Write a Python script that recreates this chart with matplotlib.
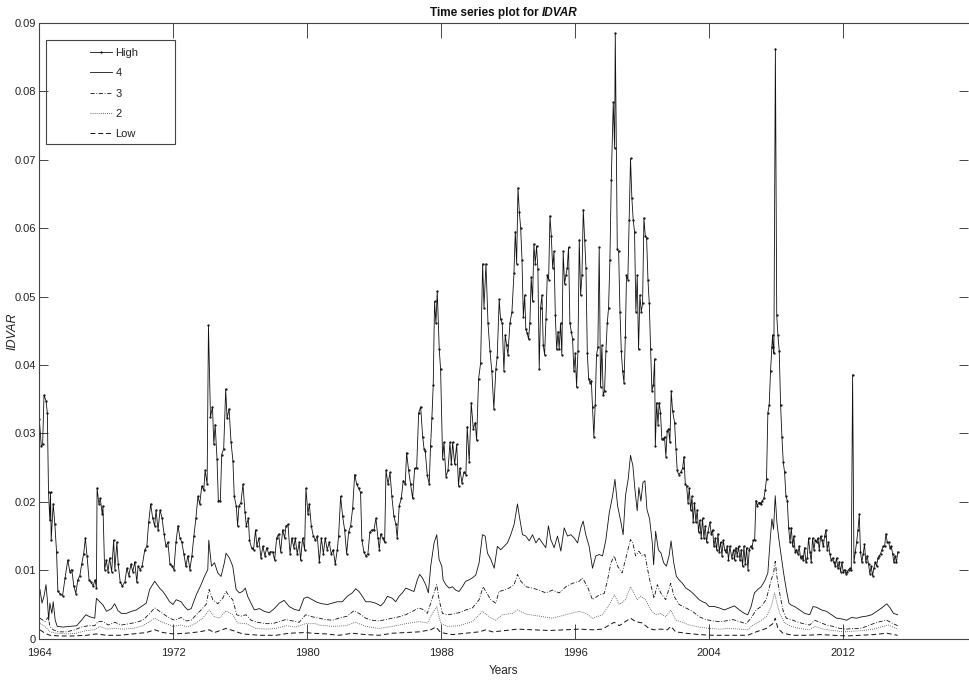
import numpy as np
import matplotlib
matplotlib.use('Agg')
import matplotlib.pyplot as plt
from matplotlib.patches import Rectangle
from matplotlib.offsetbox import TextArea, HPacker, AnchoredOffsetbox

plt.rcParams['font.family'] = ['Liberation Sans Narrow', 'Liberation Sans', 'DejaVu Sans']

# (year, IDVAR), one list per portfolio
high = [
    (1964.00, 0.0321), (1964.12, 0.0281), (1964.20, 0.0284), (1964.28, 0.0356), (1964.40, 0.0348),
    (1964.48, 0.0330), (1964.55, 0.0214), (1964.63, 0.0173), (1964.67, 0.0214), (1964.71, 0.0144),
    (1964.83, 0.0197), (1964.93, 0.0167), (1965.03, 0.0127), (1965.11, 0.0069), (1965.23, 0.0066),
    (1965.39, 0.0063), (1965.54, 0.0089), (1965.70, 0.0115), (1965.82, 0.0098), (1965.94, 0.0101),
    (1966.06, 0.0077), (1966.18, 0.0066), (1966.30, 0.0086), (1966.42, 0.0092), (1966.53, 0.0109),
    (1966.65, 0.0124), (1966.75, 0.0147), (1966.85, 0.0121), (1966.97, 0.0086), (1967.09, 0.0083),
    (1967.21, 0.0077), (1967.33, 0.0086), (1967.41, 0.0074), (1967.45, 0.0220), (1967.56, 0.0197),
    (1967.64, 0.0205), (1967.76, 0.0182), (1967.80, 0.0194), (1967.90, 0.0101), (1968.00, 0.0115),
    (1968.10, 0.0098), (1968.20, 0.0118), (1968.32, 0.0098), (1968.44, 0.0144), (1968.51, 0.0101),
    (1968.63, 0.0141), (1968.71, 0.0109), (1968.83, 0.0083), (1968.95, 0.0077), (1969.11, 0.0083),
    (1969.23, 0.0103), (1969.35, 0.0092), (1969.47, 0.0109), (1969.58, 0.0098), (1969.70, 0.0112),
    (1969.82, 0.0083), (1969.90, 0.0106), (1970.02, 0.0101), (1970.14, 0.0106), (1970.30, 0.0130),
    (1970.42, 0.0135), (1970.53, 0.0170), (1970.65, 0.0197), (1970.77, 0.0176), (1970.89, 0.0165),
    (1970.97, 0.0188), (1971.09, 0.0159), (1971.21, 0.0188), (1971.33, 0.0176), (1971.45, 0.0153),
    (1971.56, 0.0135), (1971.68, 0.0141), (1971.80, 0.0109), (1971.92, 0.0106), (1972.04, 0.0101),
    (1972.16, 0.0141), (1972.28, 0.0165), (1972.40, 0.0147), (1972.51, 0.0141), (1972.63, 0.0124),
    (1972.75, 0.0106), (1972.87, 0.0121), (1972.99, 0.0101), (1973.11, 0.0121), (1973.23, 0.0150),
    (1973.35, 0.0176), (1973.47, 0.0208), (1973.58, 0.0197), (1973.70, 0.0223), (1973.82, 0.0217),
    (1973.90, 0.0246), (1974.02, 0.0226), (1974.10, 0.0458), (1974.22, 0.0324), (1974.34, 0.0339),
    (1974.42, 0.0284), (1974.50, 0.0313), (1974.61, 0.0263), (1974.69, 0.0202), (1974.81, 0.0202),
    (1974.89, 0.0269), (1975.01, 0.0278), (1975.13, 0.0365), (1975.21, 0.0322), (1975.33, 0.0336),
    (1975.45, 0.0287), (1975.56, 0.0260), (1975.64, 0.0208), (1975.76, 0.0194), (1975.84, 0.0165),
    (1975.92, 0.0194), (1976.04, 0.0199), (1976.16, 0.0226), (1976.28, 0.0185), (1976.36, 0.0165),
    (1976.48, 0.0176), (1976.55, 0.0144), (1976.67, 0.0133), (1976.79, 0.0130), (1976.91, 0.0159),
    (1976.99, 0.0135), (1977.11, 0.0147), (1977.23, 0.0118), (1977.35, 0.0135), (1977.47, 0.0121),
    (1977.58, 0.0133), (1977.70, 0.0124), (1977.80, 0.0127), (1977.93, 0.0127), (1978.05, 0.0115),
    (1978.17, 0.0147), (1978.29, 0.0153), (1978.41, 0.0127), (1978.53, 0.0159), (1978.65, 0.0147),
    (1978.73, 0.0165), (1978.85, 0.0167), (1978.97, 0.0124), (1979.08, 0.0147), (1979.20, 0.0133),
    (1979.28, 0.0147), (1979.40, 0.0124), (1979.52, 0.0141), (1979.60, 0.0115), (1979.72, 0.0147),
    (1979.84, 0.0130), (1979.92, 0.0220), (1980.04, 0.0182), (1980.12, 0.0197), (1980.24, 0.0165),
    (1980.36, 0.0150), (1980.48, 0.0144), (1980.60, 0.0150), (1980.72, 0.0112), (1980.84, 0.0147),
    (1980.96, 0.0124), (1981.07, 0.0147), (1981.19, 0.0130), (1981.31, 0.0141), (1981.43, 0.0124),
    (1981.55, 0.0130), (1981.67, 0.0109), (1981.79, 0.0130), (1981.87, 0.0150), (1981.99, 0.0208),
    (1982.11, 0.0179), (1982.23, 0.0159), (1982.35, 0.0124), (1982.47, 0.0156), (1982.59, 0.0165),
    (1982.71, 0.0191), (1982.83, 0.0240), (1982.95, 0.0226), (1983.06, 0.0220), (1983.18, 0.0214),
    (1983.26, 0.0144), (1983.38, 0.0127), (1983.50, 0.0121), (1983.62, 0.0124), (1983.74, 0.0156),
    (1983.86, 0.0159), (1983.98, 0.0159), (1984.10, 0.0176), (1984.22, 0.0147), (1984.30, 0.0130),
    (1984.38, 0.0153), (1984.50, 0.0147), (1984.62, 0.0141), (1984.70, 0.0246), (1984.82, 0.0226),
    (1984.94, 0.0243), (1985.05, 0.0208), (1985.17, 0.0179), (1985.29, 0.0167), (1985.37, 0.0147),
    (1985.49, 0.0194), (1985.61, 0.0205), (1985.73, 0.0231), (1985.85, 0.0226), (1985.93, 0.0272),
    (1986.05, 0.0246), (1986.17, 0.0226), (1986.29, 0.0205), (1986.41, 0.0249), (1986.53, 0.0249),
    (1986.65, 0.0330), (1986.77, 0.0339), (1986.89, 0.0295), (1986.97, 0.0278), (1987.04, 0.0275),
    (1987.16, 0.0240), (1987.28, 0.0226), (1987.36, 0.0281), (1987.44, 0.0322), (1987.52, 0.0371),
    (1987.60, 0.0493), (1987.68, 0.0461), (1987.76, 0.0508), (1987.88, 0.0423), (1987.96, 0.0394),
    (1988.08, 0.0263), (1988.16, 0.0287), (1988.28, 0.0237), (1988.40, 0.0246), (1988.52, 0.0287),
    (1988.60, 0.0255), (1988.68, 0.0287), (1988.80, 0.0255), (1988.92, 0.0284), (1989.03, 0.0223),
    (1989.11, 0.0249), (1989.23, 0.0228), (1989.35, 0.0243), (1989.47, 0.0240), (1989.55, 0.0310),
    (1989.67, 0.0258), (1989.79, 0.0345), (1989.91, 0.0307), (1990.03, 0.0316), (1990.11, 0.0290),
    (1990.23, 0.0380), (1990.35, 0.0403), (1990.47, 0.0548), (1990.55, 0.0484), (1990.67, 0.0548),
    (1990.79, 0.0461), (1990.91, 0.0420), (1991.02, 0.0391), (1991.14, 0.0336), (1991.26, 0.0394),
    (1991.34, 0.0412), (1991.46, 0.0496), (1991.54, 0.0467), (1991.64, 0.0461), (1991.74, 0.0391),
    (1991.82, 0.0444), (1991.90, 0.0429), (1991.98, 0.0415), (1992.10, 0.0461), (1992.22, 0.0478),
    (1992.34, 0.0534), (1992.42, 0.0595), (1992.50, 0.0548), (1992.58, 0.0659), (1992.66, 0.0624),
    (1992.74, 0.0601), (1992.82, 0.0554), (1992.90, 0.0470), (1992.98, 0.0502), (1993.05, 0.0452),
    (1993.13, 0.0447), (1993.21, 0.0438), (1993.29, 0.0461), (1993.37, 0.0528), (1993.45, 0.0493),
    (1993.53, 0.0577), (1993.61, 0.0548), (1993.69, 0.0574), (1993.77, 0.0540), (1993.85, 0.0394),
    (1993.93, 0.0484), (1994.01, 0.0502), (1994.09, 0.0429), (1994.17, 0.0415), (1994.25, 0.0467),
    (1994.33, 0.0531), (1994.41, 0.0525), (1994.49, 0.0618), (1994.57, 0.0589), (1994.65, 0.0542),
    (1994.73, 0.0566), (1994.81, 0.0473), (1994.89, 0.0423), (1994.97, 0.0449), (1995.04, 0.0423),
    (1995.12, 0.0461), (1995.20, 0.0415), (1995.28, 0.0566), (1995.36, 0.0519), (1995.44, 0.0531),
    (1995.52, 0.0542), (1995.60, 0.0572), (1995.68, 0.0461), (1995.76, 0.0449), (1995.84, 0.0438),
    (1995.92, 0.0391), (1996.00, 0.0417), (1996.08, 0.0368), (1996.16, 0.0420), (1996.24, 0.0583),
    (1996.32, 0.0502), (1996.40, 0.0531), (1996.48, 0.0627), (1996.56, 0.0583), (1996.64, 0.0542),
    (1996.72, 0.0417), (1996.80, 0.0380), (1996.88, 0.0374), (1996.96, 0.0377), (1997.03, 0.0339),
    (1997.11, 0.0295), (1997.19, 0.0342), (1997.27, 0.0415), (1997.35, 0.0426), (1997.43, 0.0572),
    (1997.51, 0.0368), (1997.59, 0.0429), (1997.67, 0.0356), (1997.75, 0.0362), (1997.83, 0.0420),
    (1997.91, 0.0461), (1997.99, 0.0484), (1998.07, 0.0554), (1998.15, 0.0670), (1998.27, 0.0784),
    (1998.35, 0.0717), (1998.39, 0.0885), (1998.51, 0.0569), (1998.59, 0.0566), (1998.67, 0.0478),
    (1998.75, 0.0420), (1998.83, 0.0391), (1998.91, 0.0374), (1998.99, 0.0441), (1999.06, 0.0531),
    (1999.14, 0.0525), (1999.22, 0.0612), (1999.30, 0.0702), (1999.38, 0.0644), (1999.46, 0.0612),
    (1999.54, 0.0595), (1999.62, 0.0478), (1999.70, 0.0531), (1999.78, 0.0423), (1999.86, 0.0502),
    (1999.94, 0.0478), (2000.02, 0.0490), (2000.10, 0.0615), (2000.18, 0.0589), (2000.26, 0.0586),
    (2000.34, 0.0525), (2000.42, 0.0490), (2000.50, 0.0423), (2000.58, 0.0362), (2000.66, 0.0371),
    (2000.74, 0.0409), (2000.78, 0.0281), (2000.86, 0.0345), (2000.94, 0.0313), (2001.01, 0.0345),
    (2001.09, 0.0330), (2001.17, 0.0292), (2001.25, 0.0292), (2001.33, 0.0295), (2001.41, 0.0266),
    (2001.49, 0.0304), (2001.57, 0.0307), (2001.65, 0.0287), (2001.73, 0.0362), (2001.81, 0.0333),
    (2001.93, 0.0316), (2002.01, 0.0278), (2002.09, 0.0246), (2002.17, 0.0240), (2002.29, 0.0243),
    (2002.41, 0.0249), (2002.49, 0.0266), (2002.57, 0.0226), (2002.65, 0.0223), (2002.73, 0.0199),
    (2002.81, 0.0220), (2002.89, 0.0188), (2002.97, 0.0208), (2003.04, 0.0170), (2003.12, 0.0199),
    (2003.20, 0.0170), (2003.28, 0.0188), (2003.36, 0.0156), (2003.44, 0.0173), (2003.52, 0.0147),
    (2003.60, 0.0176), (2003.68, 0.0147), (2003.76, 0.0165), (2003.84, 0.0141), (2003.92, 0.0156),
    (2004.04, 0.0170), (2004.12, 0.0153), (2004.20, 0.0159), (2004.28, 0.0135), (2004.36, 0.0147),
    (2004.44, 0.0130), (2004.52, 0.0153), (2004.60, 0.0127), (2004.68, 0.0141), (2004.76, 0.0121),
    (2004.84, 0.0144), (2004.92, 0.0130), (2005.00, 0.0127), (2005.07, 0.0135), (2005.15, 0.0115),
    (2005.23, 0.0135), (2005.35, 0.0118), (2005.45, 0.0130), (2005.51, 0.0115), (2005.59, 0.0133),
    (2005.67, 0.0121), (2005.75, 0.0135), (2005.83, 0.0115), (2005.91, 0.0130), (2005.99, 0.0106),
    (2006.07, 0.0135), (2006.15, 0.0109), (2006.23, 0.0133), (2006.31, 0.0101), (2006.39, 0.0130),
    (2006.47, 0.0135), (2006.55, 0.0133), (2006.63, 0.0144), (2006.71, 0.0144), (2006.79, 0.0202),
    (2006.87, 0.0194), (2006.95, 0.0199), (2007.02, 0.0199), (2007.10, 0.0197), (2007.18, 0.0202),
    (2007.26, 0.0205), (2007.34, 0.0217), (2007.42, 0.0234), (2007.50, 0.0330), (2007.58, 0.0342),
    (2007.66, 0.0391), (2007.74, 0.0426), (2007.78, 0.0444), (2007.82, 0.0426), (2007.86, 0.0417),
    (2007.95, 0.0862), (2008.03, 0.0473), (2008.10, 0.0444), (2008.18, 0.0420), (2008.26, 0.0342),
    (2008.34, 0.0295), (2008.42, 0.0258), (2008.50, 0.0243), (2008.58, 0.0208), (2008.66, 0.0202),
    (2008.74, 0.0162), (2008.82, 0.0141), (2008.90, 0.0162), (2008.98, 0.0135), (2009.05, 0.0150),
    (2009.13, 0.0127), (2009.21, 0.0130), (2009.29, 0.0124), (2009.37, 0.0135), (2009.45, 0.0118),
    (2009.53, 0.0121), (2009.61, 0.0115), (2009.69, 0.0133), (2009.77, 0.0112), (2009.85, 0.0118),
    (2009.93, 0.0147), (2010.01, 0.0127), (2010.09, 0.0112), (2010.17, 0.0147), (2010.25, 0.0130),
    (2010.33, 0.0144), (2010.41, 0.0141), (2010.49, 0.0147), (2010.57, 0.0130), (2010.65, 0.0150),
    (2010.73, 0.0144), (2010.81, 0.0135), (2010.89, 0.0150), (2010.97, 0.0159), (2011.04, 0.0130),
    (2011.12, 0.0141), (2011.20, 0.0124), (2011.28, 0.0115), (2011.36, 0.0118), (2011.44, 0.0112),
    (2011.52, 0.0106), (2011.60, 0.0118), (2011.68, 0.0103), (2011.76, 0.0112), (2011.84, 0.0098),
    (2011.92, 0.0112), (2012.00, 0.0098), (2012.08, 0.0101), (2012.16, 0.0095), (2012.24, 0.0098),
    (2012.32, 0.0101), (2012.40, 0.0103), (2012.48, 0.0101), (2012.56, 0.0386), (2012.64, 0.0112),
    (2012.72, 0.0127), (2012.80, 0.0141), (2012.88, 0.0159), (2012.96, 0.0182), (2013.03, 0.0127),
    (2013.11, 0.0112), (2013.19, 0.0124), (2013.27, 0.0138), (2013.35, 0.0112), (2013.43, 0.0121),
    (2013.51, 0.0109), (2013.59, 0.0095), (2013.67, 0.0106), (2013.75, 0.0092), (2013.83, 0.0103),
    (2013.91, 0.0112), (2013.99, 0.0106), (2014.07, 0.0118), (2014.15, 0.0121), (2014.23, 0.0124),
    (2014.31, 0.0130), (2014.39, 0.0135), (2014.47, 0.0135), (2014.55, 0.0153), (2014.63, 0.0141),
    (2014.71, 0.0141), (2014.79, 0.0133), (2014.87, 0.0135), (2014.95, 0.0124), (2015.02, 0.0112),
    (2015.10, 0.0121), (2015.18, 0.0112), (2015.26, 0.0127),
]

q4 = [
    (1964.04, 0.0072), (1964.16, 0.0052), (1964.28, 0.0062), (1964.40, 0.0079), (1964.48, 0.0057),
    (1964.56, 0.0027), (1964.63, 0.0052), (1964.75, 0.0037), (1964.83, 0.0054), (1964.95, 0.0027),
    (1965.07, 0.0018), (1965.43, 0.0017), (1965.83, 0.0018), (1966.23, 0.0019), (1966.52, 0.0027),
    (1966.78, 0.0035), (1967.02, 0.0032), (1967.31, 0.0030), (1967.41, 0.0059), (1967.61, 0.0054),
    (1967.81, 0.0049), (1968.01, 0.0040), (1968.31, 0.0044), (1968.50, 0.0051), (1968.70, 0.0041),
    (1968.90, 0.0037), (1969.20, 0.0037), (1969.50, 0.0040), (1969.79, 0.0042), (1970.09, 0.0047),
    (1970.39, 0.0052), (1970.59, 0.0072), (1970.89, 0.0084), (1971.18, 0.0074), (1971.38, 0.0069),
    (1971.58, 0.0062), (1971.78, 0.0054), (1971.98, 0.0050), (1972.17, 0.0057), (1972.47, 0.0054),
    (1972.67, 0.0047), (1972.87, 0.0042), (1973.07, 0.0044), (1973.37, 0.0064), (1973.66, 0.0079),
    (1973.86, 0.0091), (1974.06, 0.0101), (1974.12, 0.0144), (1974.28, 0.0106), (1974.46, 0.0111),
    (1974.66, 0.0096), (1974.85, 0.0091), (1975.05, 0.0111), (1975.15, 0.0125), (1975.35, 0.0118),
    (1975.55, 0.0106), (1975.75, 0.0072), (1975.94, 0.0067), (1976.14, 0.0069), (1976.30, 0.0074),
    (1976.44, 0.0062), (1976.64, 0.0052), (1976.84, 0.0042), (1977.14, 0.0044), (1977.43, 0.0040),
    (1977.73, 0.0038), (1978.03, 0.0044), (1978.33, 0.0052), (1978.62, 0.0056), (1978.92, 0.0047),
    (1979.22, 0.0043), (1979.52, 0.0041), (1979.80, 0.0059), (1980.00, 0.0061), (1980.30, 0.0057),
    (1980.60, 0.0053), (1980.90, 0.0051), (1981.20, 0.0050), (1981.49, 0.0052), (1981.79, 0.0054),
    (1982.09, 0.0054), (1982.39, 0.0062), (1982.69, 0.0067), (1982.89, 0.0073), (1983.09, 0.0069),
    (1983.29, 0.0062), (1983.49, 0.0054), (1983.78, 0.0054), (1984.08, 0.0052), (1984.38, 0.0048),
    (1984.58, 0.0053), (1984.78, 0.0062), (1985.08, 0.0059), (1985.28, 0.0054), (1985.48, 0.0062),
    (1985.68, 0.0067), (1985.88, 0.0074), (1986.18, 0.0071), (1986.37, 0.0069), (1986.57, 0.0086),
    (1986.71, 0.0094), (1986.87, 0.0089), (1987.07, 0.0079), (1987.23, 0.0067), (1987.37, 0.0106),
    (1987.57, 0.0140), (1987.73, 0.0152), (1987.87, 0.0116), (1988.03, 0.0106), (1988.11, 0.0086),
    (1988.27, 0.0079), (1988.47, 0.0074), (1988.67, 0.0076), (1988.86, 0.0071), (1989.06, 0.0069),
    (1989.26, 0.0076), (1989.46, 0.0084), (1989.66, 0.0086), (1989.86, 0.0089), (1990.06, 0.0093),
    (1990.26, 0.0111), (1990.46, 0.0152), (1990.62, 0.0150), (1990.76, 0.0125), (1990.96, 0.0116),
    (1991.16, 0.0103), (1991.35, 0.0135), (1991.55, 0.0130), (1991.75, 0.0135), (1991.95, 0.0140),
    (1992.15, 0.0152), (1992.35, 0.0167), (1992.55, 0.0197), (1992.69, 0.0175), (1992.85, 0.0152),
    (1993.05, 0.0150), (1993.25, 0.0143), (1993.45, 0.0152), (1993.65, 0.0140), (1993.84, 0.0147),
    (1994.04, 0.0140), (1994.24, 0.0133), (1994.40, 0.0165), (1994.54, 0.0145), (1994.74, 0.0133),
    (1994.94, 0.0150), (1995.14, 0.0128), (1995.34, 0.0162), (1995.54, 0.0150), (1995.74, 0.0152),
    (1995.94, 0.0147), (1996.14, 0.0140), (1996.33, 0.0162), (1996.47, 0.0172), (1996.63, 0.0152),
    (1996.83, 0.0135), (1997.03, 0.0103), (1997.23, 0.0121), (1997.43, 0.0123), (1997.63, 0.0121),
    (1997.83, 0.0145), (1998.03, 0.0184), (1998.23, 0.0209), (1998.37, 0.0233), (1998.53, 0.0194),
    (1998.73, 0.0170), (1998.86, 0.0152), (1999.00, 0.0209), (1999.16, 0.0233), (1999.30, 0.0268),
    (1999.44, 0.0253), (1999.56, 0.0219), (1999.70, 0.0187), (1999.80, 0.0221), (1999.92, 0.0201),
    (2000.04, 0.0228), (2000.16, 0.0231), (2000.28, 0.0189), (2000.44, 0.0175), (2000.60, 0.0140),
    (2000.68, 0.0108), (2000.80, 0.0157), (2000.96, 0.0130), (2001.12, 0.0125), (2001.28, 0.0111),
    (2001.44, 0.0106), (2001.60, 0.0121), (2001.72, 0.0143), (2001.88, 0.0111), (2002.04, 0.0091),
    (2002.20, 0.0086), (2002.40, 0.0081), (2002.60, 0.0074), (2002.80, 0.0071), (2003.00, 0.0067),
    (2003.20, 0.0062), (2003.40, 0.0057), (2003.60, 0.0054), (2003.80, 0.0052), (2004.00, 0.0047),
    (2004.30, 0.0047), (2004.60, 0.0045), (2004.90, 0.0042), (2005.20, 0.0045), (2005.50, 0.0048),
    (2005.80, 0.0042), (2006.10, 0.0037), (2006.30, 0.0035), (2006.50, 0.0047), (2006.70, 0.0067),
    (2006.90, 0.0072), (2007.10, 0.0076), (2007.30, 0.0084), (2007.50, 0.0096), (2007.64, 0.0145),
    (2007.74, 0.0175), (2007.84, 0.0160), (2007.94, 0.0209), (2008.04, 0.0170), (2008.16, 0.0145),
    (2008.30, 0.0121), (2008.44, 0.0096), (2008.60, 0.0072), (2008.76, 0.0052), (2008.90, 0.0049),
    (2009.10, 0.0047), (2009.40, 0.0042), (2009.70, 0.0037), (2010.00, 0.0035), (2010.20, 0.0047),
    (2010.40, 0.0046), (2010.70, 0.0042), (2011.00, 0.0040), (2011.30, 0.0035), (2011.60, 0.0030),
    (2011.90, 0.0029), (2012.20, 0.0027), (2012.50, 0.0031), (2012.80, 0.0030), (2013.10, 0.0032),
    (2013.40, 0.0033), (2013.70, 0.0035), (2014.00, 0.0040), (2014.30, 0.0045), (2014.60, 0.0051),
    (2014.80, 0.0045), (2015.00, 0.0037), (2015.25, 0.0035),
]

q3 = [
    (1964.04, 0.0030), (1964.34, 0.0025), (1964.54, 0.0032), (1964.63, 0.0018), (1964.83, 0.0013),
    (1965.13, 0.0010), (1965.63, 0.0010), (1966.12, 0.0013), (1966.52, 0.0017), (1966.92, 0.0019),
    (1967.31, 0.0019), (1967.51, 0.0025), (1967.81, 0.0025), (1968.11, 0.0020), (1968.50, 0.0024),
    (1968.90, 0.0020), (1969.40, 0.0022), (1969.79, 0.0024), (1970.19, 0.0027), (1970.59, 0.0037),
    (1970.89, 0.0045), (1971.18, 0.0040), (1971.48, 0.0035), (1971.78, 0.0030), (1972.08, 0.0027),
    (1972.47, 0.0031), (1972.77, 0.0026), (1973.07, 0.0027), (1973.37, 0.0035), (1973.66, 0.0042),
    (1973.96, 0.0050), (1974.14, 0.0072), (1974.36, 0.0057), (1974.66, 0.0051), (1974.95, 0.0059),
    (1975.15, 0.0069), (1975.35, 0.0062), (1975.55, 0.0057), (1975.79, 0.0035), (1976.04, 0.0033),
    (1976.34, 0.0035), (1976.64, 0.0027), (1977.04, 0.0024), (1977.53, 0.0022), (1977.93, 0.0022),
    (1978.33, 0.0025), (1978.72, 0.0028), (1979.12, 0.0026), (1979.52, 0.0024), (1979.90, 0.0035),
    (1980.30, 0.0032), (1980.70, 0.0030), (1981.10, 0.0028), (1981.49, 0.0027), (1981.89, 0.0030),
    (1982.39, 0.0033), (1982.79, 0.0041), (1983.09, 0.0037), (1983.49, 0.0030), (1983.88, 0.0027),
    (1984.28, 0.0026), (1984.68, 0.0028), (1985.08, 0.0030), (1985.48, 0.0032), (1985.88, 0.0035),
    (1986.27, 0.0040), (1986.67, 0.0045), (1986.97, 0.0042), (1987.17, 0.0037), (1987.37, 0.0052),
    (1987.57, 0.0067), (1987.73, 0.0079), (1987.87, 0.0057), (1988.07, 0.0037), (1988.37, 0.0035),
    (1988.67, 0.0036), (1989.06, 0.0038), (1989.46, 0.0042), (1989.86, 0.0045), (1990.26, 0.0057),
    (1990.50, 0.0076), (1990.66, 0.0069), (1990.96, 0.0057), (1991.25, 0.0052), (1991.45, 0.0069),
    (1991.75, 0.0071), (1992.05, 0.0074), (1992.35, 0.0079), (1992.55, 0.0094), (1992.75, 0.0084),
    (1993.05, 0.0076), (1993.45, 0.0074), (1993.84, 0.0071), (1994.24, 0.0067), (1994.64, 0.0071),
    (1995.04, 0.0067), (1995.44, 0.0076), (1995.84, 0.0081), (1996.24, 0.0084), (1996.43, 0.0089),
    (1996.73, 0.0076), (1997.03, 0.0057), (1997.43, 0.0064), (1997.73, 0.0066), (1997.93, 0.0086),
    (1998.13, 0.0111), (1998.33, 0.0121), (1998.53, 0.0106), (1998.80, 0.0096), (1999.00, 0.0116),
    (1999.30, 0.0145), (1999.44, 0.0140), (1999.60, 0.0121), (1999.80, 0.0128), (2000.00, 0.0121),
    (2000.16, 0.0123), (2000.40, 0.0091), (2000.70, 0.0059), (2000.90, 0.0079), (2001.10, 0.0067),
    (2001.40, 0.0057), (2001.70, 0.0081), (2001.90, 0.0062), (2002.20, 0.0050), (2002.60, 0.0045),
    (2003.00, 0.0040), (2003.40, 0.0032), (2003.80, 0.0028), (2004.20, 0.0026), (2004.60, 0.0025),
    (2005.00, 0.0026), (2005.40, 0.0028), (2005.80, 0.0025), (2006.20, 0.0022), (2006.50, 0.0030),
    (2006.80, 0.0042), (2007.10, 0.0047), (2007.40, 0.0057), (2007.70, 0.0086), (2007.84, 0.0096),
    (2007.94, 0.0113), (2008.04, 0.0091), (2008.20, 0.0067), (2008.40, 0.0042), (2008.60, 0.0030),
    (2008.90, 0.0028), (2009.20, 0.0025), (2009.60, 0.0022), (2010.00, 0.0020), (2010.30, 0.0027),
    (2010.60, 0.0024), (2011.00, 0.0020), (2011.40, 0.0018), (2011.80, 0.0015), (2012.20, 0.0014),
    (2012.60, 0.0015), (2013.00, 0.0015), (2013.40, 0.0018), (2013.80, 0.0022), (2014.20, 0.0025),
    (2014.60, 0.0027), (2014.90, 0.0023), (2015.25, 0.0019),
]

q2 = [
    (1964.04, 0.0022), (1964.34, 0.0018), (1964.63, 0.0010), (1965.03, 0.0008), (1965.63, 0.0007),
    (1966.22, 0.0008), (1966.82, 0.0012), (1967.31, 0.0013), (1967.61, 0.0018), (1968.01, 0.0014),
    (1968.50, 0.0015), (1969.00, 0.0014), (1969.60, 0.0015), (1970.19, 0.0019), (1970.59, 0.0025),
    (1970.89, 0.0030), (1971.18, 0.0026), (1971.58, 0.0022), (1971.98, 0.0018), (1972.47, 0.0020),
    (1972.87, 0.0017), (1973.37, 0.0023), (1973.76, 0.0030), (1974.14, 0.0042), (1974.46, 0.0032),
    (1974.75, 0.0030), (1975.15, 0.0041), (1975.55, 0.0035), (1975.85, 0.0023), (1976.34, 0.0022),
    (1976.94, 0.0015), (1977.53, 0.0014), (1978.13, 0.0015), (1978.72, 0.0019), (1979.32, 0.0017),
    (1979.91, 0.0022), (1980.51, 0.0022), (1980.70, 0.0020), (1981.49, 0.0018), (1982.29, 0.0019),
    (1982.89, 0.0024), (1983.49, 0.0018), (1984.28, 0.0015), (1985.08, 0.0018), (1985.88, 0.0022),
    (1986.67, 0.0025), (1987.17, 0.0023), (1987.47, 0.0037), (1987.73, 0.0047), (1987.97, 0.0022),
    (1988.37, 0.0018), (1989.06, 0.0019), (1989.86, 0.0025), (1990.46, 0.0040), (1990.86, 0.0032),
    (1991.25, 0.0027), (1991.65, 0.0035), (1992.25, 0.0037), (1992.55, 0.0042), (1993.05, 0.0036),
    (1993.84, 0.0033), (1994.64, 0.0030), (1995.44, 0.0035), (1996.24, 0.0040), (1996.63, 0.0037),
    (1997.03, 0.0030), (1997.63, 0.0035), (1998.03, 0.0050), (1998.33, 0.0064), (1998.63, 0.0050),
    (1999.00, 0.0057), (1999.30, 0.0076), (1999.50, 0.0067), (1999.70, 0.0057), (1999.90, 0.0062),
    (2000.20, 0.0057), (2000.50, 0.0042), (2000.80, 0.0035), (2001.10, 0.0037), (2001.40, 0.0032),
    (2001.70, 0.0042), (2002.00, 0.0027), (2002.40, 0.0024), (2002.80, 0.0020), (2003.40, 0.0017),
    (2004.00, 0.0015), (2004.60, 0.0014), (2005.20, 0.0015), (2005.80, 0.0014), (2006.30, 0.0013),
    (2006.60, 0.0020), (2007.00, 0.0025), (2007.40, 0.0032), (2007.70, 0.0047), (2007.90, 0.0067),
    (2008.04, 0.0052), (2008.20, 0.0037), (2008.50, 0.0023), (2008.90, 0.0018), (2009.40, 0.0015),
    (2010.00, 0.0013), (2010.30, 0.0018), (2010.80, 0.0014), (2011.40, 0.0012), (2012.00, 0.0010),
    (2012.60, 0.0011), (2013.20, 0.0012), (2013.80, 0.0014), (2014.40, 0.0018), (2014.70, 0.0020),
    (2015.25, 0.0014),
]

low = [
    (1964.04, 0.0013), (1964.34, 0.0008), (1964.63, 0.0005), (1965.23, 0.0004), (1966.02, 0.0004),
    (1966.82, 0.0005), (1967.41, 0.0007), (1968.01, 0.0005), (1968.80, 0.0005), (1969.60, 0.0007),
    (1970.39, 0.0009), (1970.89, 0.0013), (1971.38, 0.0009), (1971.98, 0.0007), (1972.77, 0.0008),
    (1973.56, 0.0010), (1974.14, 0.0013), (1974.46, 0.0009), (1975.15, 0.0015), (1975.55, 0.0012),
    (1976.14, 0.0007), (1977.14, 0.0005), (1978.13, 0.0005), (1978.92, 0.0008), (1979.91, 0.0009),
    (1980.30, 0.0008), (1981.10, 0.0007), (1981.89, 0.0005), (1982.69, 0.0008), (1983.49, 0.0006),
    (1984.28, 0.0005), (1985.08, 0.0008), (1985.88, 0.0009), (1986.67, 0.0010), (1987.37, 0.0013),
    (1987.67, 0.0017), (1987.97, 0.0009), (1988.67, 0.0006), (1989.46, 0.0008), (1990.26, 0.0010),
    (1990.66, 0.0013), (1991.06, 0.0010), (1991.85, 0.0012), (1992.55, 0.0014), (1993.45, 0.0013),
    (1994.44, 0.0012), (1995.44, 0.0013), (1996.24, 0.0014), (1997.03, 0.0013), (1997.63, 0.0014),
    (1998.03, 0.0020), (1998.33, 0.0024), (1998.63, 0.0019), (1999.30, 0.0030), (1999.60, 0.0025),
    (2000.00, 0.0023), (2000.40, 0.0015), (2000.70, 0.0013), (2001.10, 0.0014), (2001.50, 0.0013),
    (2001.70, 0.0018), (2002.00, 0.0010), (2002.60, 0.0008), (2003.40, 0.0006), (2004.20, 0.0005),
    (2005.00, 0.0005), (2005.80, 0.0005), (2006.30, 0.0005), (2006.80, 0.0010), (2007.40, 0.0015),
    (2007.80, 0.0022), (2007.94, 0.0030), (2008.10, 0.0015), (2008.40, 0.0008), (2009.00, 0.0005),
    (2009.80, 0.0005), (2010.60, 0.0006), (2011.40, 0.0005), (2012.20, 0.0004), (2013.00, 0.0005),
    (2013.80, 0.0006), (2014.60, 0.0008), (2015.25, 0.0005),
]

labels = ['High', '4', '3', '2', 'Low']
xticks = [1964, 1972, 1980, 1988, 1996, 2004, 2012]
yticks = [0, 0.01, 0.02, 0.03, 0.04, 0.05, 0.06, 0.07, 0.08, 0.09]

W, H = 969, 684
fig = plt.figure(figsize=(W / 100, H / 100), dpi=100)
ax = fig.add_axes([39.3 / W, 1 - 638.7 / H, (968 - 39.3) / W, (638.7 - 23) / H])

styles = [
    dict(ls='-', marker='.', markersize=1.3, lw=0.6, color='#111111'),
    dict(ls='-', lw=0.6, color='#111111'),
    dict(ls=(0, (5, 2, 1, 2)), lw=0.6, color='#111111'),
    dict(ls=(0, (1, 1.5)), lw=0.6, color='#444444'),
    dict(ls=(0, (5, 3)), lw=0.7, color='#111111'),
]

for series, lab, st in zip([high, q4, q3, q2, low], labels, styles):
    t, v = zip(*series)
    ax.plot(t, v, label=lab, **st)

ax.set_xlim(1964, 2019.45)
ax.set_ylim(0, 0.09)
ax.set_xticks(xticks)
ax.set_yticks(yticks)
ax.set_yticklabels(['%g' % y for y in yticks])

edge = '#444444'
for side in ['left', 'bottom', 'top']:
    ax.spines[side].set_color(edge)
    ax.spines[side].set_linewidth(0.8)
ax.spines['right'].set_visible(False)

ax.tick_params(axis='both', direction='in', top=True, right=True, color=edge,
               labelsize=8, labelcolor='#222222', width=0.7)
ax.tick_params(axis='x', length=10.8, pad=6.5)
ax.tick_params(axis='y', length=6.5, pad=2.4)

ax.set_xlabel('Years', fontsize=8.5, color='#222222')
ax.xaxis.set_label_coords(0.5, -0.042)
ax.set_ylabel('IDVAR', fontsize=9, style='italic', color='#222222',
              family=['Liberation Sans', 'DejaVu Sans'])
ax.yaxis.set_label_coords(-0.0225, 0.5)

# title: plain bold part plus bold italic variable name
t1 = TextArea('Time series plot for ', textprops=dict(fontsize=8.5, weight='bold', color='#111111'))
t2 = TextArea('IDVAR', textprops=dict(fontsize=8.5, weight='bold', style='italic', color='#111111'))
box = HPacker(children=[t1, t2], align='baseline', pad=0, sep=0)
anch = AnchoredOffsetbox(loc='lower center', child=box, frameon=False,
                         bbox_to_anchor=(0.5, 1.0), bbox_transform=ax.transAxes,
                         pad=0, borderpad=0.3)
ax.add_artist(anch)

leg = fig.legend(loc='upper left', bbox_to_anchor=(90 / W, 1 - 48 / H), frameon=False,
                 fontsize=8, handlelength=2.0, handletextpad=0.3, labelspacing=0.93,
                 borderpad=0, borderaxespad=0)
for txt in leg.get_texts():
    txt.set_color('#222222')

fig.patches.append(Rectangle((46 / W, 1 - 144 / H), 128.7 / W, 104 / H, transform=fig.transFigure,
                             fill=False, lw=0.8, ec='#444444'))

fig.savefig('out.png', dpi=100)
